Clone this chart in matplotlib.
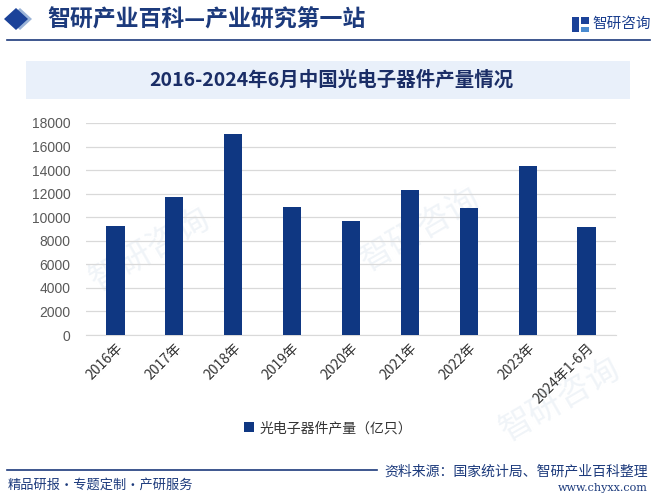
import matplotlib
matplotlib.use("Agg")
import matplotlib.pyplot as plt
from matplotlib.patches import Polygon, Rectangle
from matplotlib.lines import Line2D

plt.rcParams['font.family'] = ['Noto Sans CJK SC', 'DejaVu Sans']

categories = ["2016年", "2017年", "2018年", "2019年", "2020年", "2021年", "2022年", "2023年", "2024年1-6月"]
values = [9280, 11740, 17090, 10890, 9700, 12330, 10800, 14370, 9200]
yticks = [0, 2000, 4000, 6000, 8000, 10000, 12000, 14000, 16000, 18000]
series_name = "光电子器件产量（亿只）"
title = "2016-2024年6月中国光电子器件产量情况"
header = "智研产业百科—产业研究第一站"
source = "资料来源：国家统计局、智研产业百科整理"
footer_left = "精品研报・专题定制・产研服务"

W, H = 660, 498
fig = plt.figure(figsize=(W/100, H/100), dpi=100)
fig.patch.set_facecolor('white')

def fx(x): return x / W
def fy(y): return 1 - y / H

navy = '#1c3a7c'
bar_color = '#0f3782'

# faint watermarks (behind everything)
for (x, y) in [(150, 250), (420, 230), (560, 400)]:
    fig.text(fx(x), fy(y), "智研咨询", fontsize=24, color='#f0f4f8', rotation=30,
             ha='center', va='center', zorder=-5)

# header
fig.patches.append(Polygon([[fx(8), fy(19)], [fx(20), fy(8)], [fx(32), fy(19)], [fx(20), fy(30)]],
                           closed=True, transform=fig.transFigure, facecolor='#9bb4d8', edgecolor='none'))
fig.patches.append(Polygon([[fx(4), fy(19)], [fx(16), fy(8)], [fx(28), fy(19)], [fx(16), fy(30)]],
                           closed=True, transform=fig.transFigure, facecolor='#1b4299', edgecolor='none'))
fig.text(fx(47), fy(20), header, fontsize=16.5, color=navy, weight='bold', ha='left', va='center')
fig.add_artist(Line2D([fx(7), fx(650)], [fy(40), fy(40)], color='#1c3a7c', lw=1.2))

# logo
fig.patches.append(Rectangle((fx(572), fy(32)), fx(7), 15/H, transform=fig.transFigure, facecolor='#1b4299'))
fig.patches.append(Rectangle((fx(581), fy(24)), fx(8), 7/H, transform=fig.transFigure, facecolor='#1b4299'))
fig.patches.append(Rectangle((fx(581), fy(32)), fx(8), 5/H, transform=fig.transFigure, facecolor='#4a8bd0'))
fig.text(fx(592), fy(24), "智研咨询", fontsize=10.5, color='#1b3f8f', ha='left', va='center')

# title box
fig.patches.append(Rectangle((fx(26), fy(99)), fx(630-26), (99-61)/H, transform=fig.transFigure,
                             facecolor='#e9f0fa', edgecolor='none', zorder=-4))
fig.text(fx(331), fy(80), title, fontsize=14, color='#1a2d66', weight='bold', ha='center', va='center')

# axes
ax = fig.add_axes([fx(86), fy(335), (616-86)/W, (335-123)/H])
ax.set_facecolor('none')
x = list(range(len(categories)))
ax.bar(x, values, width=0.31, color=bar_color, zorder=3, label=series_name)
ax.set_xlim(-0.5, len(categories) - 0.5)
ax.set_ylim(0, 18000)
ax.set_yticks(yticks)
ax.set_yticklabels([str(v) for v in yticks], fontsize=10, color='#595959', family=['Liberation Sans', 'DejaVu Sans'])
ax.set_xticks(x)
ax.set_xticklabels(categories, rotation=45, ha='right', rotation_mode='anchor', fontsize=10, color='#333333')
ax.tick_params(axis='both', length=0)
ax.tick_params(axis='y', pad=11)
ax.tick_params(axis='x', pad=4)
ax.grid(axis='y', color='#d9d9d9', lw=0.9, zorder=0)
for s in ['top', 'right', 'left']:
    ax.spines[s].set_visible(False)
ax.spines['bottom'].set_color('#d9d9d9')

# legend
leg = fig.legend(loc='center', bbox_to_anchor=(fx(328), fy(428)), frameon=False, fontsize=10,
                 handlelength=0.7, handleheight=0.7, handletextpad=0.4)
for t in leg.get_texts():
    t.set_color('#333333')

# footer
fig.add_artist(Line2D([fx(7), fx(377)], [fy(470), fy(470)], color='#1c3a7c', lw=1.2))
fig.text(fx(8), fy(485), footer_left, fontsize=9.5, color='#1c3a7c', ha='left', va='center')
fig.text(fx(648), fy(471), source, fontsize=10, color='#1c3a7c', ha='right', va='center')
fig.text(fx(648), fy(488), "www.chyxx.com", fontsize=8, color='#1c3a7c', ha='right', va='center',
         family=['DejaVu Serif'])

fig.savefig('out.png', dpi=100)
